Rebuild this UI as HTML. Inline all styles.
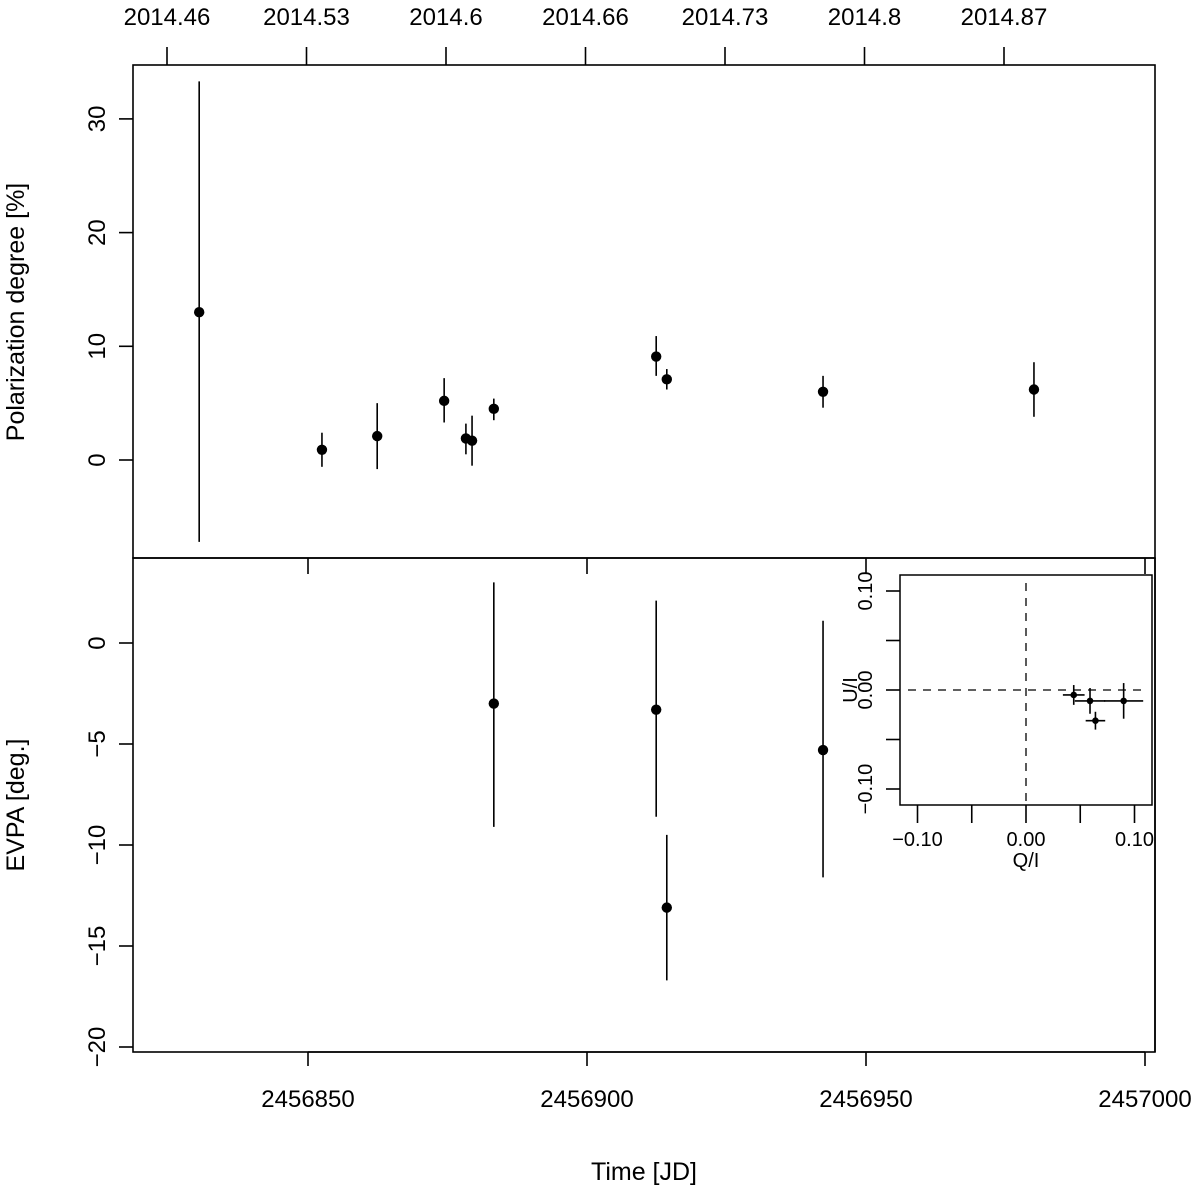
<!DOCTYPE html>
<html><head><meta charset="utf-8"><style>
body{margin:0;background:#fff}
svg text{font-family:"Liberation Sans",Arial,sans-serif;fill:#000}
</style></head><body>
<svg id="c" width="1200" height="1190" xmlns="http://www.w3.org/2000/svg"></svg>
<script>
const jd=[2456830.5,2456852.5,2456862.4,2456874.4,2456878.3,2456879.4,2456883.3,2456912.4,2456914.3,2456942.3,2456980.1];
const pd=[13.0,0.9,2.1,5.2,1.9,1.7,4.5,9.1,7.1,6.0,6.2];
const pdLo=[-7.2,-0.6,-0.8,3.3,0.5,-0.5,3.5,7.4,6.2,4.6,3.8];
const pdHi=[33.3,2.4,5.0,7.2,3.2,3.9,5.4,10.9,8.0,7.4,8.6];
const evJd=[2456883.3,2456912.4,2456914.3,2456942.3];
const ev=[-3.0,-3.3,-13.1,-5.3];
const evLo=[-9.1,-8.6,-16.7,-11.6];
const evHi=[3.0,2.1,-9.5,1.1];
const qi=[0.044,0.059,0.064,0.090];
const ui=[-0.005,-0.011,-0.031,-0.011];
const qErr=[0.010,0.014,0.009,0.018];
const uErr=[0.010,0.013,0.009,0.018];
const jdTicks=[2456850,2456900,2456950,2457000];
const yrTicks=[2014.46,2014.53,2014.6,2014.66,2014.73,2014.8,2014.87];
const pdTicks=[0,10,20,30];
const evTicks=[0,-5,-10,-15,-20];
const inTicks=[-0.10,-0.05,0,0.05,0.10];
const inLabels=["-0.10","","0.00","","0.10"];

const S=document.getElementById('c'),NS="http://www.w3.org/2000/svg";
function el(t,a,p){const e=document.createElementNS(NS,t);for(const k in a)e.setAttribute(k,a[k]);(p||S).appendChild(e);return e;}
const X=v=>308+(v-2456850)*5.58;
const Y1=v=>460-v*11.37;
const Y2=v=>643-v*20.2;
const QX=v=>1026+v*1085;
const UY=v=>690-v*990;
const yrX=i=>167+i*139.5;
const ln={stroke:"#000","stroke-width":1.6};
function line(x1,y1,x2,y2,name,extra){const e=el('line',Object.assign({x1,y1,x2,y2},ln,extra||{}));return e;}
function txt(x,y,s,name,size,rot){const e=el('text',{x,y,"font-size":size||24,"text-anchor":"middle"});if(rot)e.setAttribute('transform',`rotate(-90 ${x} ${y})`);e.textContent=s;return e;}
let r=el('rect',{x:133,y:65,width:1022,height:493,fill:"none",stroke:"#000","stroke-width":1.6});

r=el('rect',{x:133,y:558,width:1022,height:494,fill:"none",stroke:"#000","stroke-width":1.6});

yrTicks.forEach((t,i)=>{const x=yrX(i);line(x,65,x,47,'year-tick');txt(x,25,String(t),'year-tick-label');});
jdTicks.forEach(t=>{const x=X(t);line(x,558,x,574,'jd-tick-mid');line(x,1052,x,1066,'jd-tick');txt(x,1107,String(t),'jd-tick-label');});
line(X(2456850),1052,X(2457000),1052,'x-axis-line');
txt(644,1180,'Time [JD]','x-axis-title',25);
pdTicks.forEach(t=>{const y=Y1(t);line(133,y,119,y,'pd-tick');txt(105,y,String(t),'pd-tick-label',24,true);});
evTicks.forEach(t=>{const y=Y2(t);line(133,y,119,y,'evpa-tick');txt(105,y,String(t).replace('-','\u2212'),'evpa-tick-label',24,true);});
txt(24,312,'Polarization degree [%]','y-axis-title-pd',25,true);
txt(24,805,'EVPA [deg.]','y-axis-title-evpa',25,true);
jd.forEach((d,i)=>{const x=X(d);line(x,Y1(pdHi[i]),x,Y1(pdLo[i]),'pd-errorbar');
 const c=el('circle',{cx:x,cy:Y1(pd[i]),r:5.2,fill:"#000"});});
evJd.forEach((d,i)=>{const x=X(d);line(x,Y2(evHi[i]),x,Y2(evLo[i]),'evpa-errorbar');
 const c=el('circle',{cx:x,cy:Y2(ev[i]),r:5.2,fill:"#000"});});
r=el('rect',{x:900,y:575,width:252,height:230,fill:"#fff",stroke:"#000","stroke-width":1.5});

line(1155,558,1155,1052,'right-border');
inTicks.forEach((t,i)=>{const x=QX(t);line(x,805,x,823,'inset-x-tick');if(inLabels[i])txt(x,846,inLabels[i].replace('-','\u2212'),'inset-x-tick-label',20);
 const y=UY(t);line(900,y,886,y,'inset-y-tick');if(inLabels[i])txt(872,y,inLabels[i].replace('-','\u2212'),'inset-y-tick-label',20,true);});
txt(1026,867,'Q/I','inset-x-title',20);
txt(857,690,'U/I','inset-y-title',20,true);
line(QX(0),583,QX(0),805,'inset-zero-vline',{"stroke-dasharray":"8,7","stroke-width":1.3});
line(908,UY(0),1143,UY(0),'inset-zero-hline',{"stroke-dasharray":"8,7","stroke-width":1.3});
qi.forEach((q,i)=>{const x=QX(q),y=UY(ui[i]);
 line(QX(q-qErr[i]),y,QX(q+qErr[i]),y,'inset-xerr');line(x,UY(ui[i]+uErr[i]),x,UY(ui[i]-uErr[i]),'inset-yerr');
 const c=el('circle',{cx:x,cy:y,r:3.3,fill:"#000"});});
</script>
</body></html>
